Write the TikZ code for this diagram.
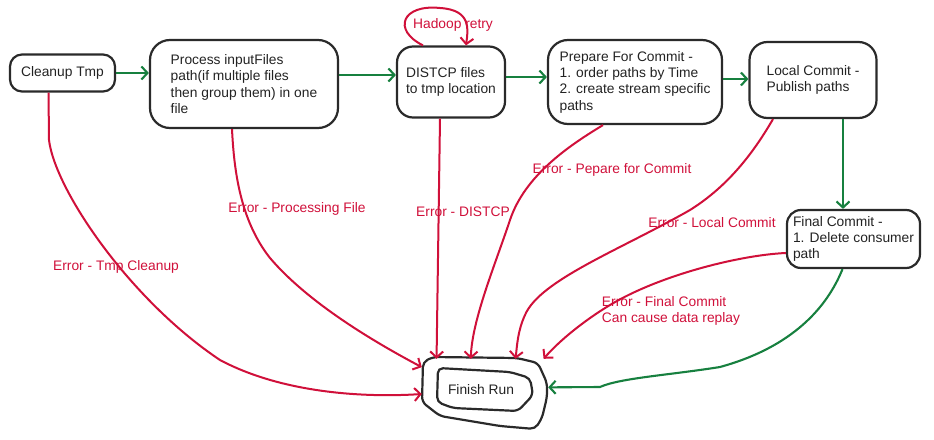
\documentclass[tikz,border=0pt]{standalone}
\usepackage{fontspec}
\setmainfont{Liberation Sans}
\usetikzlibrary{arrows.meta}
\definecolor{errred}{HTML}{D0103A}
\definecolor{okgreen}{HTML}{17803F}
\definecolor{ink}{HTML}{2A2A2A}
\definecolor{txt}{HTML}{222222}
\begin{document}
\begin{tikzpicture}[x=1pt,y=-1pt,
  box/.style={draw=ink, line width=2.2pt, rounded corners=16pt, inner sep=2pt, align=left, text=txt, font=\fontsize{13.8}{16.3}\selectfont},
  ok/.style={draw=okgreen, line width=2.1pt, -{Straight Barb[length=6pt,width=13pt]}},
  err/.style={draw=errred, line width=2pt, -{Straight Barb[length=6pt,width=13pt]}},
  errlabel/.style={text=errred, align=left, inner sep=0pt, font=\fontsize{13.8}{16.3}\selectfont},
  outline/.style={draw=ink, line width=2.2pt, rounded corners=5pt}
]
\useasboundingbox (0,0) rectangle (934,439);

% process boxes
\node[box, minimum width=105pt, minimum height=37pt, rounded corners=12pt] (cleanup) at (62.5,73) {Cleanup Tmp};
\node[box, minimum width=188pt, minimum height=88pt, rounded corners=20pt] (process) at (244,84) {Process inputFiles\\path(if multiple files\\then group them) in one\\file};
\node[box, minimum width=108pt, minimum height=71pt] (distcp) at (451,82) {DISTCP files\\to tmp location};
\node[box, minimum width=174pt, minimum height=84pt, rounded corners=20pt] (prepare) at (635,82) {Prepare For Commit -\\1. order paths by Time\\2. create stream specific\\paths};
\node[box, minimum width=127pt, minimum height=76pt, rounded corners=18pt] (local) at (813,80) {Local Commit -\\Publish paths};
\node[box, minimum width=133pt, minimum height=58pt, rounded corners=14pt] (final) at (853.5,239) {Final Commit -\\1. Delete consumer\\path};

% finish run (double hand-drawn outline)
\node[minimum width=126pt, minimum height=70pt, inner sep=0pt] (finish) at (485,394) {};
\draw[outline] (423,362) -- (433,357) -- (517,358) -- (538,363) -- (547,383) -- (547,397) -- (542,418) -- (535,429) -- (500,426) -- (440,416) -- (422,402) -- cycle;
\draw[outline] (438,368) -- (510,372) -- (530,378) -- (533,395) -- (518,411) -- (453,408) -- (437,402) -- cycle;
\node[text=txt, font=\fontsize{13.8}{16.3}\selectfont, inner sep=0pt] (finishtext) at (481,390) {Finish Run};

% main flow
\draw[ok] (cleanup.east) -- (cleanup.east -| process.west);
\draw[ok] ([yshift=9pt]process.east) -- ([yshift=9pt]process.east -| distcp.west);
\draw[ok] ([yshift=5pt]distcp.east) -- ([yshift=5pt]distcp.east -| prepare.west);
\draw[ok] ([yshift=3pt]prepare.east) -- ([yshift=3pt]prepare.east -| local.west);
\draw[ok] ([xshift=30pt]local.south) -- ([xshift=30pt]local.south |- final.north);
\draw[ok] ([xshift=-11pt]final.south) .. controls (830,300) and (800,345) .. (720,367) .. controls (670,375) and (620,378) .. (600,387) -- (finish.6);

% hadoop retry loop
\draw[err] ([xshift=-28pt]distcp.north) .. controls (392,30) and (402,4) .. (440,8) .. controls (472,10) and (468,30) .. ([xshift=15pt]distcp.north);

% error paths
\draw[err] ([xshift=-14pt]cleanup.south) -- (49,140) .. controls (55,190) and (130,300) .. (220,360) .. controls (280,392) and (360,398) .. (finish.180);
\draw[err] ([xshift=-12pt]process.south) .. controls (234,170) and (240,220) .. (270,258) .. controls (310,305) and (380,345) .. (finish.157);
\draw[err] ([xshift=-11pt]distcp.south) -- (finish.144);
\draw[err] ([xshift=-32pt]prepare.south) .. controls (570,145) and (525,175) .. (510,220) .. controls (495,265) and (472,320) .. (finish.112);
\draw[err] ([xshift=-40pt]local.south) .. controls (755,150) and (730,185) .. (690,210) .. controls (620,250) and (540,280) .. (525,315) .. controls (518,330) and (517,345) .. (finish.49);
\draw[err] ([yshift=-14pt]final.west) .. controls (740,255) and (660,275) .. (610,305) .. controls (585,320) and (560,340) .. (finish.31);

% labels
\node[errlabel] (l1) at (116,267) {Error - Tmp Cleanup};
\node[errlabel] (l2) at (297,209) {Error - Processing File};
\node[errlabel] (l3) at (463,212) {Error - DISTCP};
\node[errlabel] (l4) at (612,170) {Error - Pepare for Commit};
\node[errlabel] (l5) at (712,223) {Error - Local Commit};
\node[errlabel] (l6) at (671,311) {Error - Final Commit\\Can cause data replay};
\node[errlabel] (l7) at (453,25) {Hadoop retry};
\end{tikzpicture}
\end{document}
